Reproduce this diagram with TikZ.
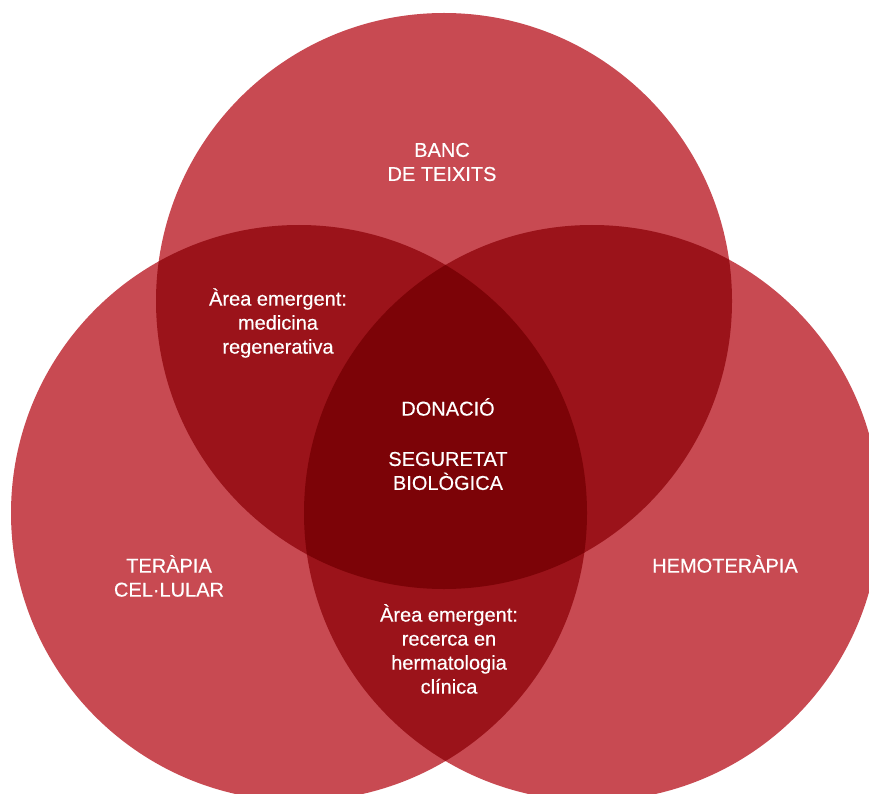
\documentclass[tikz,border=0pt]{standalone}
\usepackage{fontspec}
\setmainfont{Liberation Sans}
\newfontfamily\vennfont[FakeBold=0.4]{Liberation Sans}
\usetikzlibrary{positioning}
\definecolor{vennone}{RGB}{200,74,82}
\definecolor{venntwo}{RGB}{155,19,26}
\definecolor{vennthree}{RGB}{124,3,7}
\tikzset{
  %% ---- areas ----
  single/.style = {fill=vennone},
  double/.style = {fill=venntwo},
  triple/.style = {fill=vennthree},
  %% ---- texts ----
  venntext/.style = {text=white, align=center, inner sep=0pt,
                     font=\vennfont\fontsize{20}{24}\selectfont},
}
\begin{document}
\begin{tikzpicture}[x=1pt, y=-1pt]
  \useasboundingbox (0,0) rectangle (869,794);
  \clip (0,0) rectangle (869,794);

  %% Circle centres
  \coordinate (ctop)   at (444,301);
  \coordinate (cleft)  at (299,513);
  \coordinate (cright) at (592,513);

  %% Single areas
  \fill[single] (ctop)   circle[radius=288];
  \fill[single] (cleft)  circle[radius=288];
  \fill[single] (cright) circle[radius=288];

  %% Double overlaps
  \begin{scope}
    \clip (ctop) circle[radius=288];
    \fill[double] (cleft)  circle[radius=288];
    \fill[double] (cright) circle[radius=288];
  \end{scope}
  \begin{scope}
    \clip (cleft) circle[radius=288];
    \fill[double] (cright) circle[radius=288];
  \end{scope}

  %% Triple overlap
  \begin{scope}
    \clip (ctop) circle[radius=288];
    \clip (cleft) circle[radius=288];
    \fill[triple] (cright) circle[radius=288];
  \end{scope}

  %% Labels
  \node[venntext] (banc)   at (442,162) {BANC\\DE TEIXITS};
  \node[venntext] (medreg) at (278,323) {Àrea emergent:\\medicina\\regenerativa};
  \node[venntext] (donacio) at (448,407) {DONACIÓ};
  \node[venntext] (segbio) at (448,471) {SEGURETAT\\BIOLÒGICA};
  \node[venntext] (terapia) at (169,576) {TERÀPIA\\CEL·LULAR};
  \node[venntext] (hemo)   at (725,564) {HEMOTERÀPIA};
  \node[venntext] (recerca) at (449,649)
    {Àrea emergent:\\recerca en\\hermatologia\\clínica};

\end{tikzpicture}
\end{document}
